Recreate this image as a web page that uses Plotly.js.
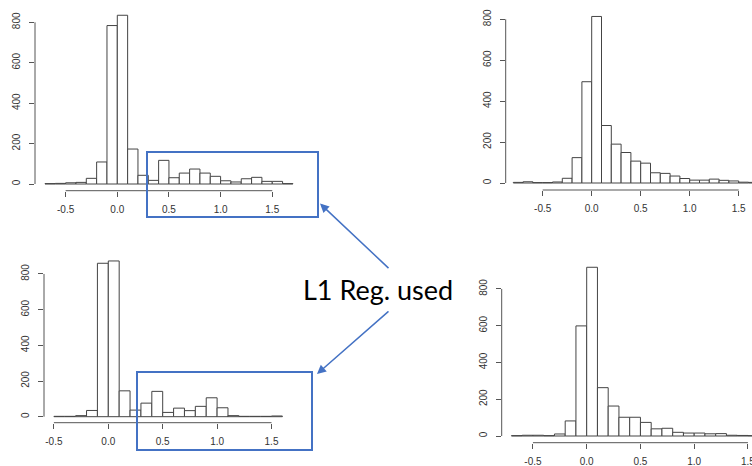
<!DOCTYPE html>
<html>
<head>
<meta charset="utf-8">
<script src="https://cdn.plot.ly/plotly-3.0.1.min.js"></script>
<style>html,body{margin:0;padding:0;background:#fff;}#chart{width:752px;height:466px;}</style>
</head>
<body>
<div id="chart"></div>
<script>
// ---- data (histogram bin left edges, bin width 0.1, and counts) ----
const tlEdges = [-0.7,-0.6,-0.5,-0.4,-0.3,-0.2,-0.1,0.0,0.1,0.2,0.3,0.4,0.5,0.6,0.7,0.8,0.9,1.0,1.1,1.2,1.3,1.4,1.5,1.6];
const tlCounts = [2,3,6,8,28,109,784,835,173,43,18,117,31,54,74,54,38,16,10,26,33,13,13,2];

const trEdges = [-0.8,-0.7,-0.6,-0.5,-0.4,-0.3,-0.2,-0.1,0.0,0.1,0.2,0.3,0.4,0.5,0.6,0.7,0.8,0.9,1.0,1.1,1.2,1.3,1.4,1.5,1.6];
const trCounts = [3,6,2,2,5,23,124,495,814,281,190,149,107,97,50,47,34,22,14,14,19,13,10,4,3];

const blEdges = [-0.5,-0.4,-0.3,-0.2,-0.1,0.0,0.1,0.2,0.3,0.4,0.5,0.6,0.7,0.8,0.9,1.0,1.1,1.2,1.3,1.4,1.5];
const blCounts = [2,2,6,35,860,873,145,37,76,142,24,48,34,58,106,50,6,2,2,2,4];

const brEdges = [-0.7,-0.6,-0.5,-0.4,-0.3,-0.2,-0.1,0.0,0.1,0.2,0.3,0.4,0.5,0.6,0.7,0.8,0.9,1.0,1.1,1.2,1.3,1.4,1.5];
const brCounts = [2,4,4,2,11,82,599,918,263,163,102,102,74,39,42,20,16,16,12,13,4,3,2];

const binWidth = 0.1;
const xTickVals = [-0.5,0,0.5,1,1.5];
const xTickText = ["-0.5","0.0","0.5","1.0","1.5"];
const yTickVals = [0,200,400,600,800];
const yTickText = ["0","200","400","600","800"];
const noteText = "L1 Reg. used";

// ---- layout geometry (pixels) ----
const W = 752, H = 466;
const px = v => v / W;
const py = v => 1 - v / H;

const panels = [
  {edges: tlEdges, counts: tlCounts, x0: 117.3, kx: 103.3, y0: 184.0, ky: 0.2021, L: 35,    B: 190.7, R: 300, T: 6},
  {edges: trEdges, counts: trCounts, x0: 591.7, kx: 98.0,  y0: 183.0, ky: 0.2046, L: 505.7, B: 190.0, R: 752, T: 6},
  {edges: blEdges, counts: blCounts, x0: 108.3, kx: 108.8, y0: 416.7, ky: 0.1784, L: 44,    B: 422.7, R: 300, T: 255},
  {edges: brEdges, counts: brCounts, x0: 586.7, kx: 107.5, y0: 436.0, ky: 0.1838, L: 501.7, B: 442.7, R: 752, T: 258}
];

const axisColor = '#555';
const tickFont = {family: 'Liberation Sans, Arial, sans-serif', size: 10, color: '#333'};

const traces = [];
const shapes = [];
const layout = {
  width: W, height: H,
  margin: {l: 0, r: 0, t: 0, b: 0, pad: 0},
  paper_bgcolor: '#fff', plot_bgcolor: 'rgba(0,0,0,0)',
  showlegend: false,
  bargap: 0
};

panels.forEach((p, i) => {
  const n = i === 0 ? '' : String(i + 1);
  const xa = 'x' + n, ya = 'y' + n;
  traces.push({
    type: 'bar', x: p.edges, y: p.counts, width: binWidth, offset: 0,
    xaxis: xa, yaxis: ya,
    marker: {color: '#ffffff', line: {color: '#444', width: 1}},
    hoverinfo: 'x+y'
  });
  layout['xaxis' + n] = {
    domain: [px(p.L), px(p.R)],
    range: [(p.L - p.x0) / p.kx, (p.R - p.x0) / p.kx],
    anchor: ya, showgrid: false, zeroline: false, showline: false,
    tickmode: 'array', tickvals: xTickVals, ticktext: xTickText,
    ticks: 'outside', ticklen: 5, tickwidth: 1, tickcolor: axisColor,
    ticklabelstandoff: 4, ticklabeloverflow: 'allow',
    tickfont: tickFont
  };
  layout['yaxis' + n] = {
    domain: [py(p.B), py(p.T)],
    range: [(p.y0 - p.B) / p.ky, (p.y0 - p.T) / p.ky],
    anchor: xa, showgrid: false, zeroline: false, showline: false,
    tickmode: 'array', tickvals: yTickVals, ticktext: yTickText,
    ticks: 'outside', ticklen: 5, tickwidth: 1, tickcolor: axisColor,
    tickangle: -90, ticklabelstandoff: 5, ticklabeloverflow: 'allow',
    tickfont: tickFont
  };
  // R-style axis spines spanning the tick range only
  shapes.push({type: 'line', xref: xa, yref: ya + ' domain', x0: xTickVals[0], x1: xTickVals[xTickVals.length - 1], y0: 0, y1: 0,
    line: {color: axisColor, width: 1}});
  shapes.push({type: 'line', xref: xa + ' domain', yref: ya, x0: 0, x1: 0, y0: yTickVals[0], y1: yTickVals[yTickVals.length - 1],
    line: {color: axisColor, width: 1}});
});

// blue highlight boxes
const blue = '#4472C4';
shapes.push({type: 'rect', xref: 'paper', yref: 'paper', x0: px(147), x1: px(318), y0: py(217), y1: py(152),
  line: {color: blue, width: 2}, fillcolor: 'rgba(0,0,0,0)'});
shapes.push({type: 'rect', xref: 'paper', yref: 'paper', x0: px(137), x1: px(312), y0: py(450), y1: py(372),
  line: {color: blue, width: 2}, fillcolor: 'rgba(0,0,0,0)'});
layout.shapes = shapes;

layout.annotations = [
  {xref: 'paper', yref: 'paper', x: px(320), y: py(203.5), axref: 'pixel', ayref: 'pixel', ax: 70, ay: 66,
   text: '', showarrow: true, arrowhead: 2, arrowsize: 1.2, arrowwidth: 1.5, arrowcolor: blue, standoff: 0, startstandoff: 0},
  {xref: 'paper', yref: 'paper', x: px(317), y: py(374), axref: 'pixel', ayref: 'pixel', ax: 73, ay: -64,
   text: '', showarrow: true, arrowhead: 2, arrowsize: 1.2, arrowwidth: 1.5, arrowcolor: blue, standoff: 0, startstandoff: 0},
  {xref: 'paper', yref: 'paper', x: px(378), y: py(289.5), xanchor: 'center', yanchor: 'middle',
   text: noteText, showarrow: false, font: {family: 'Lato, Liberation Sans, sans-serif', size: 27, color: '#000'}}
];

Plotly.newPlot('chart', traces, layout, {displayModeBar: false, staticPlot: true});
</script>
</body>
</html>
